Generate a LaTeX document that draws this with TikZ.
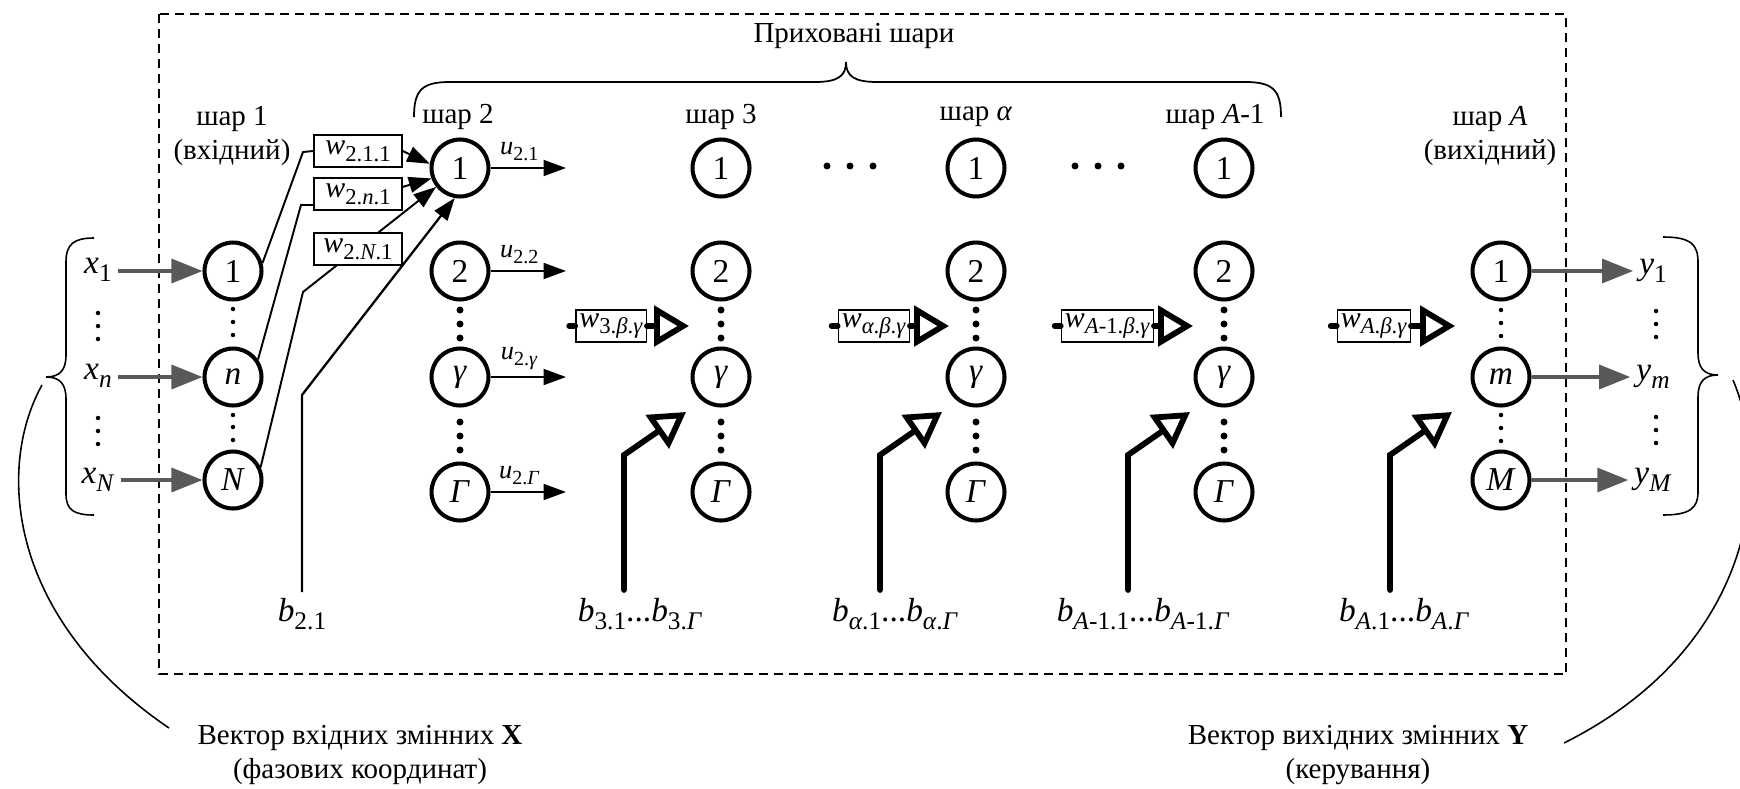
\documentclass[tikz,border=0pt]{standalone}
\usepackage{fontspec}
\usepackage{graphicx}
\setmainfont{Liberation Serif}
\usetikzlibrary{arrows.meta,positioning}

\definecolor{arrgray}{RGB}{89,89,89}
\newcommand{\sbs}[1]{\raisebox{-0.5ex}{\scalebox{0.76}{#1}}}

\begin{document}
\begin{tikzpicture}[x=0.02cm, y=-0.02cm,
  neuron/.style={circle, draw, line width=2.3pt, minimum size=1.14cm, inner sep=0pt, font=\fontsize{19}{21}\selectfont},
  wbox/.style={draw, fill=white, line width=0.8pt, inner xsep=2pt, inner ysep=1pt, minimum height=0.64cm, font=\fontsize{17}{19}\selectfont},
  lbl/.style={font=\fontsize{16.5}{19}\selectfont, align=center},
  ulbl/.style={font=\fontsize{15}{17}\selectfont},
  var/.style={font=\fontsize{19}{21}\selectfont},
  conn/.style={line width=1.1pt},
  sarrow/.style={line width=1.1pt, -{Triangle[length=0.45cm, width=0.32cm]}},
  garrow/.style={draw=arrgray, line width=1.9pt, -{Triangle[length=0.62cm, width=0.48cm]}},
  harrow/.style={line width=3.3pt, line cap=round, -{Triangle[open, length=0.7cm, width=0.8cm, fill=white]}},
  stub/.style={line width=3.3pt, line cap=round}]

\useasboundingbox (0,0) rectangle (1740,788);

\draw[line width=0.85pt, dash pattern=on 0.18cm off 0.12cm] (159,14) rectangle (1566,674);

\node[lbl] (hid) at (854,36) {Приховані шари};
\draw[line width=1pt] (414,117) .. controls (414,90) and (422,82) .. (450,82) -- (815,82) .. controls (838,82) and (846,76) .. (846,62) .. controls (846,76) and (854,82) .. (877,82) -- (1245,82) .. controls (1273,82) and (1281,90) .. (1281,117);

\begin{scope}
\node[lbl] (t1) at (232,136) {шар 1\\(вхідний)};
\node[neuron] (a1) at (233,271) {1};
\node[neuron] (an) at (233,377) {\textit{n}};
\node[neuron] (aN) at (233,480) {\textit{N}};
\fill (233,309) circle (0.045cm) (233,322) circle (0.045cm) (233,335) circle (0.045cm)
      (233,415) circle (0.045cm) (233,427) circle (0.045cm) (233,440) circle (0.045cm);

\node[var] (x1) at (98,270) {\textit{x}\sbs{1}};
\node[var] (xn) at (98,376) {\textit{x}\sbs{\textit{n}}};
\node[var] (xN) at (98,480) {\textit{x}\sbs{\textit{N}}};
\fill (98,313) circle (0.045cm) (98,326) circle (0.045cm) (98,339) circle (0.045cm)
      (98,418) circle (0.045cm) (98,431) circle (0.045cm) (98,444) circle (0.045cm);
\draw[garrow] (x1.east |- a1) -- (a1);
\draw[garrow] (xn.east |- an) -- (an);
\draw[garrow] (xN.east |- aN) -- (aN);

\draw[line width=0.9pt] (94,238) .. controls (74,238) and (66,244) .. (66,262) -- (66,355) .. controls (66,370) and (60,377) .. (46,377) .. controls (60,377) and (66,384) .. (66,399) -- (66,494) .. controls (66,510) and (74,515) .. (94,515);
\coordinate (lbr) at (42,385);
\coordinate (lvec) at (169,728);
\draw[line width=0.9pt] (lbr) .. controls (-5,470) and (10,620) .. (lvec);
\node[lbl] (vx) at (360,755) {Вектор вхідних змінних \textbf{X}\\(фазових координат)};
\end{scope}

\begin{scope}
\node[lbl] (t2) at (458,117) {шар 2};
\node[neuron] (b1) at (460,168) {1};
\node[neuron] (b2) at (460,271) {2};
\node[neuron] (bg) at (460,377) {\textit{γ}};
\node[neuron] (bG) at (460,492) {\textit{Γ}};
\fill (460,310) circle (0.07cm) (460,324) circle (0.07cm) (460,338) circle (0.07cm)
      (460,422) circle (0.07cm) (460,436) circle (0.07cm) (460,450) circle (0.07cm);

\coordinate (u1) at (566,168);
\coordinate (u2) at (566,271);
\coordinate (ug) at (566,377);
\coordinate (uG) at (566,492);
\draw[sarrow] (b1) -- (u1) node[ulbl, pos=0.38, above] {\textit{u}\sbs{2.1}};
\draw[sarrow] (b2) -- (u2) node[ulbl, pos=0.38, above] {\textit{u}\sbs{2.2}};
\draw[sarrow] (bg) -- (ug) node[ulbl, pos=0.38, above] {\textit{u}\sbs{2.\textit{γ}}};
\draw[sarrow] (bG) -- (uG) node[ulbl, pos=0.38, above] {\textit{u}\sbs{2.\textit{Γ}}};

\node[wbox, minimum width=1.76cm] (w1) at (358,151) {\textit{w}\sbs{2.1.1}};
\node[wbox, minimum width=1.76cm] (w2) at (358,194) {\textit{w}\sbs{2.\textit{n}.1}};
\draw[conn] (a1.15) -- (303,152) -- (w1.west);
\draw[conn] (an.35) -- (301,205) -- (w2.west |- 0,205);
\draw[sarrow] (w1.east) -- (b1.172);
\draw[sarrow] (w2.9) -- (b1.200);
\draw[sarrow] (aN.25) -- (303,292) -- (b1);
\node[wbox, minimum width=1.76cm] (w3) at (358,249) {\textit{w}\sbs{2.\textit{N}.1}};

\node[var] (lb2) at (302,614) {\textit{b}\sbs{2.1}};
\draw[sarrow, line width=1.3pt] (lb2.north) -- (lb2.north |- 0,395) -- (b1.-100);
\end{scope}

\begin{scope}[shift={(721,0)}]
\node[lbl] (t3) at (0,117) {шар 3};
\node[neuron] (c1) at (0,168) {1};
\node[neuron] (c2) at (0,271) {2};
\node[neuron] (cg) at (0,377) {\textit{γ}};
\node[neuron] (cG) at (0,492) {\textit{Γ}};
\fill (0,310) circle (0.07cm) (0,324) circle (0.07cm) (0,338) circle (0.07cm)
      (0,422) circle (0.07cm) (0,436) circle (0.07cm) (0,450) circle (0.07cm);

\node[wbox, anchor=east] (cw) at (-74,326) {\textit{w}\sbs{3.\textit{β}.\textit{γ}}};
\coordinate (cwt) at (-32,326);
\draw[stub] (cw.west) -- ++(-6,0);
\draw[harrow] (cw.east) -- (cwt);

\coordinate (cb) at (-97,590);
\coordinate (cbt) at (-35,412);
\draw[harrow] (cb) -- (-97,455) -- (cbt);
\node[var] (cbl) at (-81,614) {\textit{b}\sbs{3.1}...\textit{b}\sbs{3.\textit{Γ}}};
\end{scope}

\fill (827,166) circle (0.07cm) (850,166) circle (0.07cm) (873,166) circle (0.07cm);

\begin{scope}[shift={(976,0)}]
\node[lbl] (t4) at (0,117) {шар \textit{α}};
\node[neuron] (d1) at (0,168) {1};
\node[neuron] (d2) at (0,271) {2};
\node[neuron] (dg) at (0,377) {\textit{γ}};
\node[neuron] (dG) at (0,492) {\textit{Γ}};
\fill (0,310) circle (0.07cm) (0,324) circle (0.07cm) (0,338) circle (0.07cm)
      (0,422) circle (0.07cm) (0,436) circle (0.07cm) (0,450) circle (0.07cm);

\node[wbox, anchor=east] (dw) at (-66,326) {\textit{w}\sbs{\textit{α}.\textit{β}.\textit{γ}}};
\coordinate (dwt) at (-27,326);
\draw[stub] (dw.west) -- ++(-6,0);
\draw[harrow] (dw.east) -- (dwt);

\coordinate (db) at (-96,590);
\coordinate (dbt) at (-34,412);
\draw[harrow] (db) -- (-96,455) -- (dbt);
\node[var] (dbl) at (-81,614) {\textit{b}\sbs{\textit{α}.1}...\textit{b}\sbs{\textit{α}.\textit{Γ}}};
\end{scope}

\fill (1075,166) circle (0.07cm) (1098,166) circle (0.07cm) (1121,166) circle (0.07cm);

\begin{scope}[shift={(1224,0)}]
\node[lbl] (t5) at (-9,117) {шар \textit{A}-1};
\node[neuron] (e1) at (0,168) {1};
\node[neuron] (e2) at (0,271) {2};
\node[neuron] (eg) at (0,377) {\textit{γ}};
\node[neuron] (eG) at (0,492) {\textit{Γ}};
\fill (0,310) circle (0.07cm) (0,324) circle (0.07cm) (0,338) circle (0.07cm)
      (0,422) circle (0.07cm) (0,436) circle (0.07cm) (0,450) circle (0.07cm);

\node[wbox, anchor=east] (ew) at (-70,326) {\textit{w}\sbs{\textit{A}-1.\textit{β}.\textit{γ}}};
\coordinate (ewt) at (-31,326);
\draw[stub] (ew.west) -- ++(-6,0);
\draw[harrow] (ew.east) -- (ewt);

\coordinate (eb) at (-96,590);
\coordinate (ebt) at (-34,412);
\draw[harrow] (eb) -- (-96,455) -- (ebt);
\node[var] (ebl) at (-81,614) {\textit{b}\sbs{\textit{A}-1.1}...\textit{b}\sbs{\textit{A}-1.\textit{Γ}}};
\end{scope}

\begin{scope}[shift={(1501,0)}]
\node[lbl] (t6) at (-11,136) {шар \textit{A}\\(вихідний)};
\node[neuron] (f1) at (0,271) {1};
\node[neuron] (fm) at (0,377) {\textit{m}};
\node[neuron] (fM) at (0,480) {\textit{M}};
\fill (0,310) circle (0.045cm) (0,323) circle (0.045cm) (0,336) circle (0.045cm)
      (0,415) circle (0.045cm) (0,428) circle (0.045cm) (0,441) circle (0.045cm);

\node[wbox, anchor=east] (fw) at (-90,326) {\textit{w}\sbs{\textit{A}.\textit{β}.\textit{γ}}};
\coordinate (fwt) at (-46,326);
\draw[stub] (fw.west) -- ++(-6,0);
\draw[harrow] (fw.east) -- (fwt);

\coordinate (fb) at (-111,590);
\coordinate (fbt) at (-49,412);
\draw[harrow] (fb) -- (-111,455) -- (fbt);
\node[var] (fbl) at (-97,614) {\textit{b}\sbs{\textit{A}.1}...\textit{b}\sbs{\textit{A}.\textit{Γ}}};

\node[var] (y1) at (152,271) {\textit{y}\sbs{1}};
\node[var] (ym) at (152,377) {\textit{y}\sbs{\textit{m}}};
\node[var] (yM) at (152,480) {\textit{y}\sbs{\textit{M}}};
\fill (155,311) circle (0.045cm) (155,324) circle (0.045cm) (155,337) circle (0.045cm)
      (155,417) circle (0.045cm) (155,430) circle (0.045cm) (155,443) circle (0.045cm);
\draw[garrow] (f1) -- (y1.west |- f1);
\draw[garrow] (fm) -- (ym.west |- fm);
\draw[garrow] (fM) -- (yM.west |- fM);
\end{scope}

\draw[line width=0.9pt] (1663,237) .. controls (1690,237) and (1698,244) .. (1698,262) -- (1698,353) .. controls (1698,368) and (1704,375) .. (1718,375) .. controls (1704,375) and (1698,382) .. (1698,397) -- (1698,492) .. controls (1698,508) and (1690,515) .. (1663,515);
\coordinate (rbr) at (1733,380);
\coordinate (rvec) at (1564,743);
\draw[line width=0.9pt] (rbr) .. controls (1775,480) and (1750,650) .. (rvec);
\node[lbl] (vy) at (1358,755) {Вектор вихідних змінних \textbf{Y}\\(керування)};

\end{tikzpicture}
\end{document}
